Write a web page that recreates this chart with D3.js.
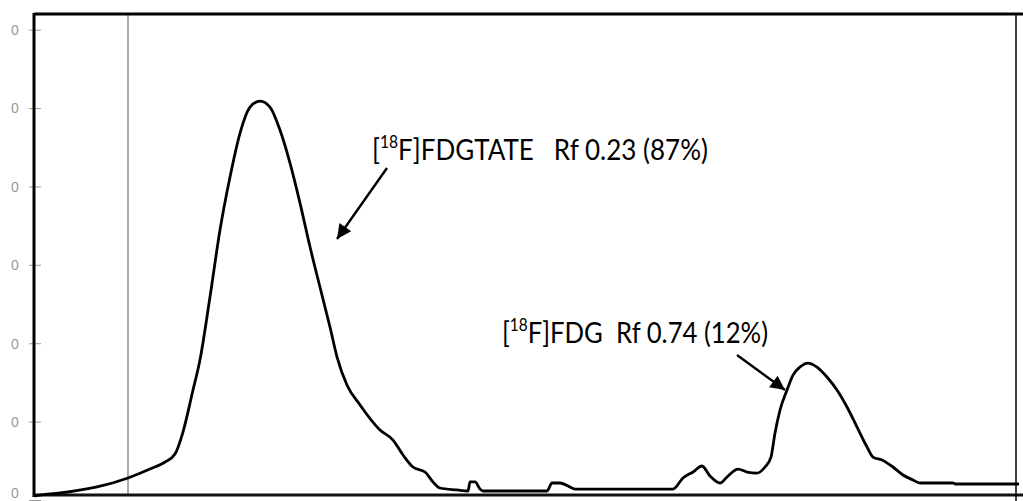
<!DOCTYPE html>
<html>
<head>
<meta charset="utf-8">
<script src="https://cdn.jsdelivr.net/npm/d3@7"></script>
<style>
  html, body { margin: 0; padding: 0; background: #fff; }
  svg { display: block; }
</style>
</head>
<body>
<svg id="chart" width="1023" height="501"></svg>
<script>
// ---- data ----
const distance = [0.10,1.63,3.46,6.42,9.57,11.81,13.34,14.36,15.17,16.19,16.90,17.92,18.94,19.96,20.98,22.00,23.01,24.03,25.05,26.07,27.09,28.11,29.12,30.14,30.86,31.87,33.20,35.23,36.56,37.58,38.59,39.82,40.63,41.34,43.08,44.20,44.40,44.91,45.42,45.72,52.24,52.75,53.56,54.79,55.09,65.07,66.09,67.11,68.02,68.84,69.86,70.57,71.69,72.61,73.63,74.44,75.05,75.46,75.97,76.68,77.29,78.00,78.82,79.73,80.75,81.77,82.79,83.81,84.83,85.44,86.35,87.47,88.49,89.51,90.22,93.58,93.79,100.31];
const counts = [5.1,7.7,10.2,16.6,28.1,39.5,48.5,58.7,86.7,140.3,178.6,258.9,344.4,412.0,468.1,501.3,508.9,501.3,471.9,429.8,378.8,322.7,271.7,220.7,182.4,146.7,121.2,89.3,76.5,57.4,42.1,35.7,23.0,15.3,12.8,11.5,23.0,23.0,14.0,11.5,11.5,21.7,21.7,15.3,14.0,14.0,28.1,35.7,43.4,30.6,21.7,29.3,39.5,35.7,34.4,42.1,54.8,85.5,114.8,140.3,159.4,169.6,174.7,169.6,156.9,140.3,118.6,93.1,67.6,54.8,51.0,42.1,31.9,25.5,21.7,21.7,20.4,20.4];
const yTickValues = [0,100,200,300,400,500,600];
const yTickLabels = ["0","0","0","0","0","0","0"];
const peakLabels = [
  { pre: "[", sup: "18", post: "F]FDGTATE\u00a0\u00a0\u00a0Rf 0.23 (87%)" },
  { pre: "[", sup: "18", post: "F]FDG\u00a0\u00a0Rf 0.74 (12%)" }
];

// ---- layout ----
const svg = d3.select("#chart");
const x = d3.scaleLinear().domain([0, 100]).range([34, 1016]);
const y = d3.scaleLinear().domain([0, 620]).range([500, 14]);

// arrow marker
svg.append("defs").append("marker")
  .attr("id", "ah").attr("viewBox", "0 0 10 10")
  .attr("refX", 10).attr("refY", 5)
  .attr("markerWidth", 7).attr("markerHeight", 6)
  .attr("markerUnits", "strokeWidth")
  .attr("orient", "auto")
  .append("path").attr("d", "M0,0 L10,5 L0,10 Z").attr("fill", "#000");

// thin vertical reference line (origin)
svg.append("line")
  .attr("x1", 128).attr("x2", 128).attr("y1", 15).attr("y2", 494)
  .attr("stroke", "#555").attr("stroke-width", 1);

// y axis ticks + labels
const yAxis = d3.axisLeft(y).tickValues(yTickValues)
  .tickFormat((d, i) => yTickLabels[i]).tickSize(12).tickPadding(0);
const gy = svg.append("g").attr("transform", "translate(41,0)").call(yAxis);
gy.select(".domain").remove();
gy.selectAll(".tick line").attr("stroke", "#999").attr("stroke-width", 1);
gy.selectAll(".tick text")
  .attr("x", -26).attr("text-anchor", "middle")
  .attr("fill", "#999").attr("font-size", 14)
  .attr("font-family", "Liberation Sans, Arial, sans-serif")
  .attr("dy", d => d === 0 ? "-0.15em" : "0.35em");

// frame
svg.append("line").attr("x1", 34).attr("x2", 1023).attr("y1", 14).attr("y2", 14)
  .attr("stroke", "#000").attr("stroke-width", 3);
svg.append("line").attr("x1", 34).attr("x2", 1023).attr("y1", 495).attr("y2", 495)
  .attr("stroke", "#111").attr("stroke-width", 3);
svg.append("line").attr("x1", 34).attr("x2", 34).attr("y1", 13).attr("y2", 497)
  .attr("stroke", "#000").attr("stroke-width", 3);
svg.append("line").attr("x1", 1016).attr("x2", 1016).attr("y1", 15).attr("y2", 501)
  .attr("stroke", "#000").attr("stroke-width", 1.5);

// trace
const pts = distance.map((d, i) => [d, counts[i]]);
const line = d3.line().x(d => x(d[0])).y(d => y(d[1])).curve(d3.curveMonotoneX);
svg.append("path").datum(pts).attr("d", line)
  .attr("fill", "none").attr("stroke", "#000").attr("stroke-width", 2.8)
  .attr("stroke-linejoin", "round");

// annotations
const fontFam = "Lato, 'Open Sans', sans-serif";
const fs = 29;
function label(lbl, xPos, yPos, anchor, len) {
  const t = svg.append("text").attr("x", xPos).attr("y", yPos)
    .attr("font-family", fontFam).attr("font-size", fs).attr("fill", "#000")
    .attr("text-anchor", anchor)
    .attr("textLength", len).attr("lengthAdjust", "spacingAndGlyphs");
  t.append("tspan").text(lbl.pre);
  t.append("tspan").attr("font-size", fs * 0.6).attr("dy", -fs * 0.4).text(lbl.sup);
  t.append("tspan").attr("dy", fs * 0.4).text(lbl.post);
  return t;
}
label(peakLabels[0], 372, 160, "start", 336);
label(peakLabels[1], 768, 343, "end", 266);

// arrows (from label toward peak flank)
svg.append("line").attr("x1", 387).attr("y1", 168).attr("x2", 337).attr("y2", 239)
  .attr("stroke", "#000").attr("stroke-width", 2.4).attr("marker-end", "url(#ah)");
svg.append("line").attr("x1", 737).attr("y1", 355).attr("x2", 785).attr("y2", 390)
  .attr("stroke", "#000").attr("stroke-width", 2.4).attr("marker-end", "url(#ah)");
</script>
</body>
</html>
